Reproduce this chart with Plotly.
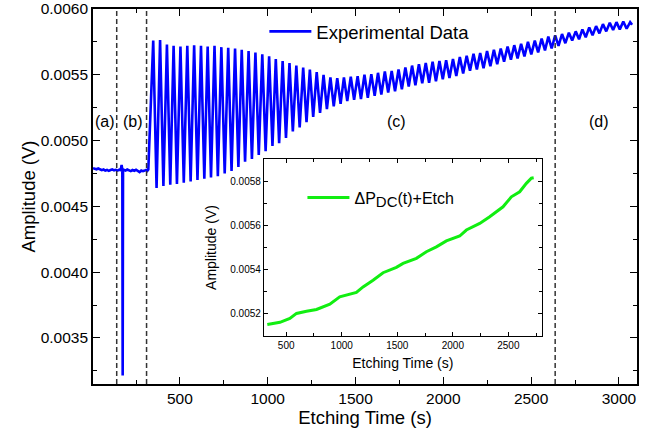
import plotly.graph_objects as go

# ---- main series: flat baseline (regions a, b) ----
base_time = [5, 15, 25, 35, 45, 55, 65, 75, 85, 95, 105, 115, 125, 135, 145, 155, 163, 168,
             172, 174, 176, 181, 190, 200, 210, 220, 230, 240, 250, 260, 270, 280, 290, 300,
             308, 314, 320]
base_amp = [0.004790, 0.004785, 0.004782, 0.004788, 0.004778, 0.004775, 0.004780, 0.004772,
            0.004777, 0.004770, 0.004776, 0.004781, 0.004774, 0.004778, 0.004772, 0.004779,
            0.004776, 0.004815, 0.004780, 0.003215, 0.004770, 0.004778, 0.004772, 0.004780,
            0.004775, 0.004768, 0.004776, 0.004771, 0.004778, 0.004770, 0.004760, 0.004773,
            0.004768, 0.004772, 0.004776, 0.004770, 0.004780]

# ---- main series: oscillation extrema (regions c, d) ----
osc_time = [348, 367, 387, 406, 426, 445, 464, 483, 503, 522, 542, 561, 581, 600, 620, 639,
            658, 677, 697, 716, 736, 755, 775, 794, 814, 833, 852, 871, 891, 910, 930, 949,
            969, 988, 1008, 1027, 1046, 1065, 1085, 1104, 1124, 1143, 1163, 1182, 1202, 1221,
            1240, 1259, 1279, 1298, 1318, 1337, 1357, 1376, 1396, 1415, 1434, 1453, 1473, 1492,
            1512, 1531, 1551, 1570, 1590, 1609, 1628, 1647, 1667, 1686, 1706, 1725, 1745, 1764,
            1784, 1803, 1822, 1841, 1861, 1880, 1900, 1919, 1939, 1958, 1978, 1997, 2016, 2035,
            2055, 2074, 2094, 2113, 2133, 2152, 2172, 2191, 2210, 2229, 2249, 2268, 2288, 2307,
            2327, 2346, 2366, 2385, 2404, 2423, 2443, 2462, 2482, 2501, 2521, 2540, 2560, 2579,
            2598, 2617, 2637, 2656, 2676, 2695, 2715, 2734, 2754, 2773, 2792, 2811, 2831, 2850,
            2870, 2889, 2909, 2928, 2948, 2967, 2986, 3005, 3025, 3044, 3064, 3075]
osc_amp = [0.005760, 0.004640, 0.005765, 0.004655, 0.005730, 0.004665, 0.005720, 0.004670,
           0.005715, 0.004680, 0.005720, 0.004690, 0.005725, 0.004700, 0.005720, 0.004710,
           0.005715, 0.004720, 0.005720, 0.004730, 0.005710, 0.004750, 0.005705, 0.004770,
           0.005700, 0.004800, 0.005690, 0.004840, 0.005680, 0.004860, 0.005670, 0.004890,
           0.005655, 0.004920, 0.005640, 0.004960, 0.005620, 0.004980, 0.005605, 0.005020,
           0.005590, 0.005070, 0.005570, 0.005100, 0.005555, 0.005140, 0.005540, 0.005180,
           0.005520, 0.005210, 0.005500, 0.005240, 0.005480, 0.005260, 0.005475, 0.005280,
           0.005480, 0.005300, 0.005485, 0.005310, 0.005490, 0.005315, 0.005500, 0.005325,
           0.005505, 0.005340, 0.005515, 0.005350, 0.005525, 0.005365, 0.005530, 0.005375,
           0.005540, 0.005390, 0.005555, 0.005410, 0.005570, 0.005420, 0.005580, 0.005435,
           0.005590, 0.005440, 0.005600, 0.005450, 0.005605, 0.005465, 0.005610, 0.005475,
           0.005620, 0.005490, 0.005635, 0.005510, 0.005645, 0.005530, 0.005660, 0.005540,
           0.005665, 0.005550, 0.005680, 0.005565, 0.005690, 0.005580, 0.005700, 0.005600,
           0.005715, 0.005615, 0.005725, 0.005625, 0.005735, 0.005640, 0.005750, 0.005655,
           0.005760, 0.005670, 0.005775, 0.005685, 0.005790, 0.005700, 0.005800, 0.005720,
           0.005810, 0.005740, 0.005820, 0.005760, 0.005830, 0.005770, 0.005845, 0.005785,
           0.005860, 0.005800, 0.005870, 0.005815, 0.005885, 0.005830, 0.005895, 0.005840,
           0.005900, 0.005845, 0.005905, 0.005850, 0.005900, 0.005880]

# ---- inset series ----
inset_time = [330, 444, 533, 593, 683, 773, 893, 982, 1132, 1192, 1282, 1372, 1492, 1552,
              1672, 1762, 1852, 1942, 2062, 2122, 2242, 2332, 2452, 2527, 2602, 2662, 2707, 2728]
inset_amp = [0.005152, 0.005162, 0.005179, 0.005202, 0.005212, 0.005220, 0.005244, 0.005277,
             0.005297, 0.005322, 0.005352, 0.005386, 0.005410, 0.005428, 0.005451, 0.005481,
             0.005503, 0.005530, 0.005552, 0.005579, 0.005609, 0.005639, 0.005684, 0.005729,
             0.005752, 0.005790, 0.005813, 0.005815]

# ---- region markers ----
boundary_times = [140, 310, 2637]
region_labels = ["(a)", "(b)", "(c)", "(d)"]
region_label_x = [73, 232, 1735, 2886]
region_label_y = 0.005148

main_time = base_time + osc_time
main_amp = base_amp + osc_amp

FONT = "Liberation Sans, Arial, sans-serif"

fig = go.Figure()
fig.add_trace(go.Scatter(x=main_time, y=main_amp, mode="lines", name="Experimental Data",
                         line=dict(color="#0000FF", width=2.6), xaxis="x", yaxis="y",
                         legend="legend"))
fig.add_trace(go.Scatter(x=inset_time, y=inset_amp, mode="lines",
                         name="ΔP<sub><span style='font-size:15px'>DC</span></sub>(t)+Etch",
                         line=dict(color="#11EE11", width=3), xaxis="x2", yaxis="y2",
                         legend="legend2"))

for t in boundary_times:
    fig.add_shape(type="line", xref="x", yref="paper", x0=t, x1=t, y0=0, y1=1,
                  line=dict(color="#333333", width=1.5, dash="5px,3px"))

for lab, lx in zip(region_labels, region_label_x):
    fig.add_annotation(x=lx, y=region_label_y, xref="x", yref="y", text=lab,
                       showarrow=False, font=dict(family=FONT, size=16, color="black"))

axis_common = dict(showline=True, linecolor="black", mirror="ticks", ticks="inside",
                   showgrid=False, zeroline=False, tickcolor="black", automargin=False)

fig.update_layout(
    width=660, height=431,
    margin=dict(l=93, r=23, t=9, b=47),
    paper_bgcolor="white", plot_bgcolor="white",
    font=dict(family=FONT, color="black"),
    xaxis=dict(range=[5, 3103], domain=[0, 1], tick0=0, dtick=500, ticklen=7, linewidth=1.6,
               tickwidth=1.3, tickfont=dict(size=15.5),
               minor=dict(dtick=250, ticklen=4, ticks="inside", tickcolor="black", tickwidth=1.2),
               title=dict(text="Etching Time (s)", font=dict(size=18.5), standoff=3),
               anchor="y", **axis_common),
    yaxis=dict(range=[0.00315, 0.0060], domain=[0, 1], tick0=0, dtick=0.0005, ticklen=7,
               linewidth=1.6, tickwidth=1.3, tickformat=".4f", tickfont=dict(size=15.5),
               minor=dict(dtick=0.00025, ticklen=4, ticks="inside", tickcolor="black", tickwidth=1.2),
               title=dict(text="Amplitude (V)", font=dict(size=18.5), standoff=0),
               anchor="x", **axis_common),
    xaxis2=dict(range=[300, 2800], domain=[0.3143, 0.8248], tick0=0, dtick=500, ticklen=4,
                linewidth=1.2, tickwidth=1, tickfont=dict(size=10),
                minor=dict(dtick=250, ticklen=2.5, ticks="inside", tickcolor="black", tickwidth=1),
                title=dict(text="Etching Time (s)", font=dict(size=14), standoff=8),
                anchor="y2", **axis_common),
    yaxis2=dict(range=[0.0051, 0.0059], domain=[0.128, 0.6], tick0=0, dtick=0.0002, ticklen=4,
                linewidth=1.2, tickwidth=1, tickformat=".4f", tickfont=dict(size=10),
                minor=dict(dtick=0.0001, ticklen=2.5, ticks="inside", tickcolor="black", tickwidth=1),
                title=dict(text="Amplitude (V)", font=dict(size=14), standoff=10),
                anchor="x2", **axis_common),
    legend=dict(x=0.315, y=0.939, xanchor="left", yanchor="middle", bgcolor="rgba(0,0,0,0)",
                font=dict(size=18.5), itemwidth=42),
    legend2=dict(x=0.385, y=0.497, xanchor="left", yanchor="middle", bgcolor="rgba(0,0,0,0)",
                 font=dict(size=16), itemwidth=42),
    showlegend=True,
)

fig.write_html("out.html", config={"displayModeBar": False},
               post_script="document.body.style.margin='0';")
